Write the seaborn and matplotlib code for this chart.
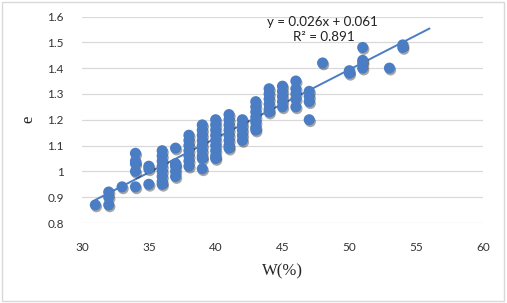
import numpy as np
import pandas as pd
import seaborn as sns
import matplotlib.pyplot as plt
import matplotlib.patheffects as pe
from matplotlib.patches import Rectangle

# water content W(%) columns and the void ratio e read at each one
w_31 = [0.87]
w_32 = [0.92, 0.90, 0.87]
w_33 = [0.94]
w_34 = [1.07, 1.04, 1.03, 1.00, 0.94]
w_35 = [1.02, 1.01, 0.95]
w_36 = [1.08, 1.06, 1.04, 1.02, 1.00, 0.98, 0.96, 0.95]
w_37 = [1.09, 1.03, 1.02, 1.00, 0.98]
w_38 = [1.14, 1.12, 1.10, 1.08, 1.06, 1.04, 1.02]
w_39 = [1.18, 1.16, 1.14, 1.12, 1.10, 1.08, 1.06, 1.05, 1.01]
w_40 = [1.20, 1.18, 1.16, 1.14, 1.12, 1.10, 1.08, 1.06, 1.05]
w_41 = [1.22, 1.20, 1.18, 1.16, 1.14, 1.12, 1.10, 1.09]
w_42 = [1.20, 1.18, 1.16, 1.14, 1.12]
w_43 = [1.27, 1.25, 1.23, 1.21, 1.19, 1.17, 1.16]
w_44 = [1.32, 1.30, 1.28, 1.26, 1.24, 1.23]
w_45 = [1.33, 1.31, 1.29, 1.27, 1.25]
w_46 = [1.35, 1.32, 1.30, 1.28, 1.25]
w_47 = [1.31, 1.29, 1.27, 1.20]
w_48 = [1.42]
w_50 = [1.39, 1.38]
w_51 = [1.48, 1.43, 1.42, 1.40]
w_53 = [1.40]
w_54 = [1.49, 1.48]

columns = {31: w_31, 32: w_32, 33: w_33, 34: w_34, 35: w_35, 36: w_36,
           37: w_37, 38: w_38, 39: w_39, 40: w_40, 41: w_41, 42: w_42,
           43: w_43, 44: w_44, 45: w_45, 46: w_46, 47: w_47, 48: w_48,
           50: w_50, 51: w_51, 53: w_53, 54: w_54}

df = pd.DataFrame([(w, e) for w, es in columns.items() for e in es], columns=['W', 'e'])

equation_text = 'y = 0.026x + 0.061'
r2_text = 'R² = 0.891'
x_ticks = [30, 35, 40, 45, 50, 55, 60]
y_ticks = [0.8, 0.9, 1, 1.1, 1.2, 1.3, 1.4, 1.5, 1.6]
trend_end = 56

blue = '#4A7DC4'

sns.set_style('white')
plt.rcParams['font.family'] = ['Lato', 'DejaVu Sans']

fig = plt.figure(figsize=(5.07, 3.03), dpi=100)
ax = fig.add_axes([0.1617, 0.264, 0.791, 0.6815])

# linear trendline, forward forecast to W = 56 like the Excel chart
slope, intercept = np.polyfit(df['W'], df['e'], 1)
xs = np.array([df['W'].min(), trend_end])
ax.plot(xs, slope * xs + intercept, color=blue, lw=1.4, zorder=3)

sns.scatterplot(data=df, x='W', y='e', ax=ax, s=64, color=blue,
                edgecolor='none', zorder=4,
                path_effects=[pe.SimplePatchShadow(offset=(0.8, -1.3), shadow_rgbFace='black', alpha=0.35),
                              pe.Normal()])

ax.set_xlim(30, 60)
ax.set_ylim(0.8, 1.6)
ax.set_xticks(x_ticks)
ax.set_yticks(y_ticks)
ax.set_yticklabels([f'{v:g}' for v in y_ticks])
ax.tick_params(length=0, labelsize=8.5, colors='#333333')
ax.tick_params(axis='x', pad=14)
ax.tick_params(axis='y', pad=13)
ax.yaxis.grid(True, color='#D9D9D9', lw=0.9)
ax.set_axisbelow(True)
for s in ax.spines.values():
    s.set_visible(False)

ax.set_xlabel('W(%)', family='Liberation Serif', fontsize=12, labelpad=7)
ax.set_ylabel('e', family='Liberation Serif', fontsize=12, labelpad=8)

ax.text(48.0, 1.577, equation_text, ha='center', va='center', fontsize=9.6, color='#222222')
ax.text(48.1, 1.519, r2_text, ha='center', va='center', fontsize=9.6, color='#222222')

fig.patches.append(Rectangle((0.004, 0.007), 0.99, 0.985, transform=fig.transFigure,
                             fill=False, edgecolor='#D9D9D9', lw=1))

fig.savefig('out.png', dpi=100)
